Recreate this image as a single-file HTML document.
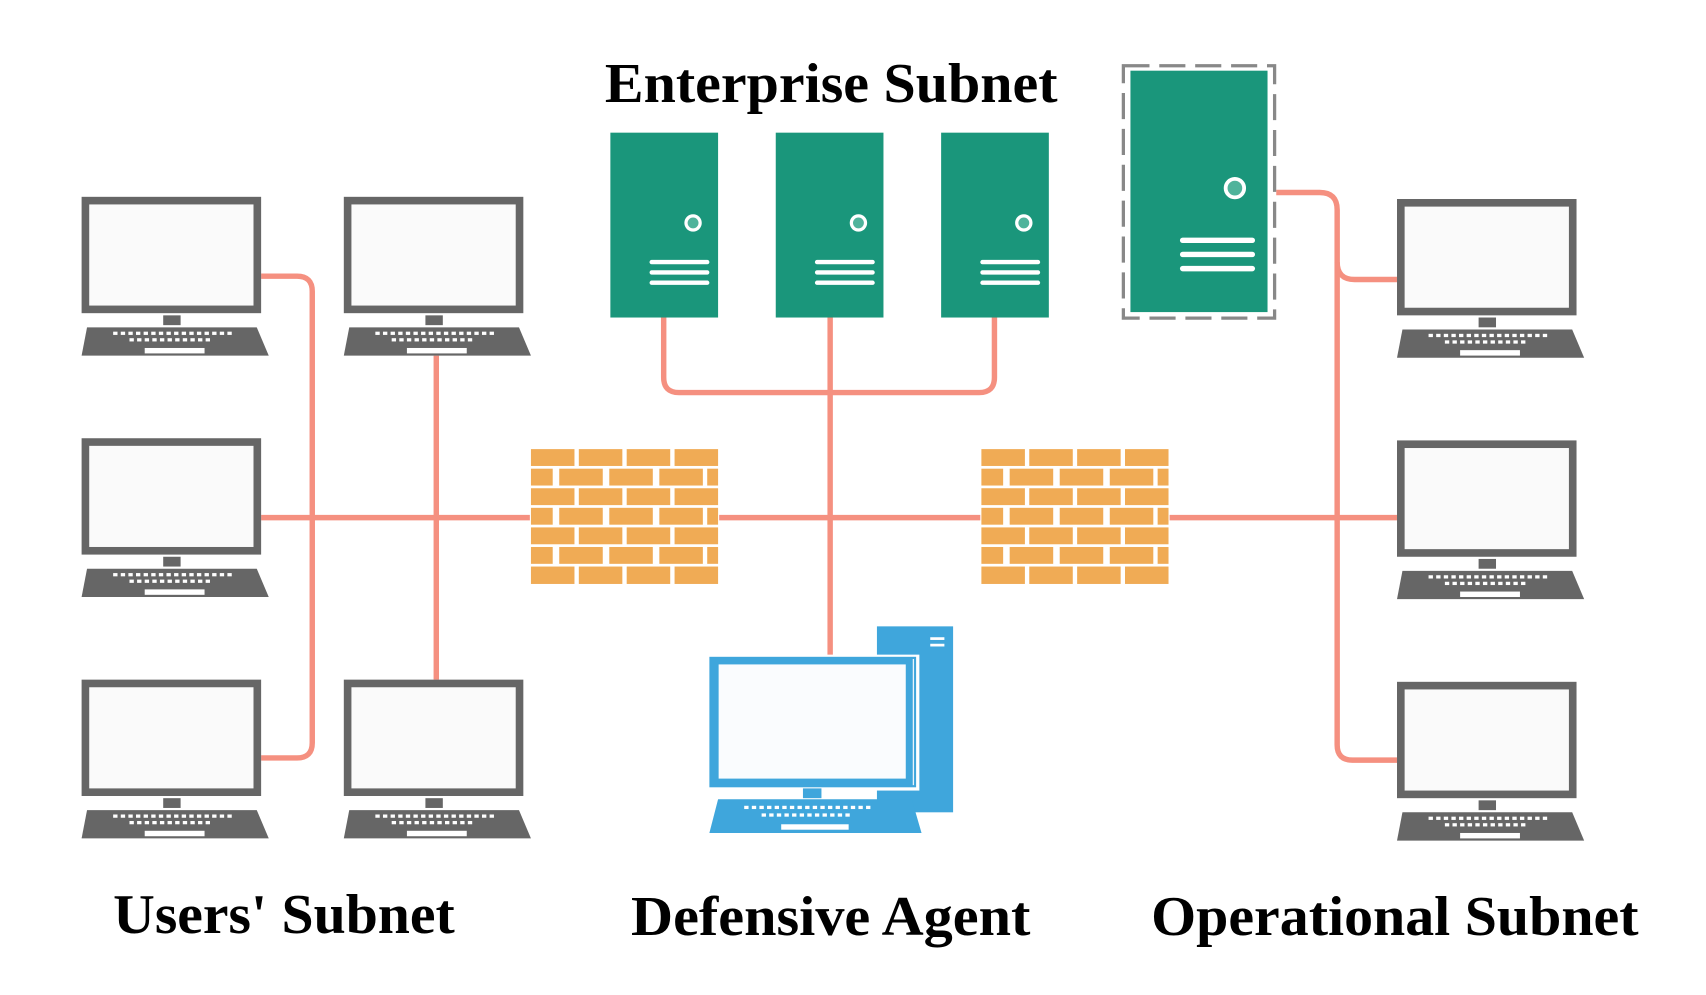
<!DOCTYPE html>
<html><head><meta charset="utf-8"><style>
html,body{margin:0;padding:0;background:#fff;}
svg{display:block;}
text{font-family:"Liberation Serif",serif;font-weight:bold;fill:#000;}
</style></head><body>
<svg width="1706" height="995" viewBox="0 0 1568 915" preserveAspectRatio="none" xmlns="http://www.w3.org/2000/svg">
<defs>
<g id="lap">
 <rect x="3.5" y="3.5" width="158" height="100" fill="#fafafa" stroke="#666" stroke-width="7"/>
 <rect x="75" y="109" width="16" height="9" fill="#666"/>
 <polygon points="5,120 161,120 172,146 0,146" fill="#666"/>
 <g fill="#fff">
  <rect x="29" y="124" width="4" height="3"/><rect x="36" y="124" width="4" height="3"/><rect x="43" y="124" width="4" height="3"/><rect x="50" y="124" width="4" height="3"/><rect x="57" y="124" width="4" height="3"/><rect x="64" y="124" width="4" height="3"/><rect x="71" y="124" width="4" height="3"/><rect x="78" y="124" width="4" height="3"/><rect x="85" y="124" width="4" height="3"/><rect x="92" y="124" width="4" height="3"/><rect x="99" y="124" width="4" height="3"/><rect x="106" y="124" width="4" height="3"/><rect x="113" y="124" width="4" height="3"/><rect x="120" y="124" width="4" height="3"/><rect x="127" y="124" width="4" height="3"/><rect x="134" y="124" width="4" height="3"/>
  <rect x="44" y="130" width="4" height="3"/><rect x="51" y="130" width="4" height="3"/><rect x="58" y="130" width="4" height="3"/><rect x="65" y="130" width="4" height="3"/><rect x="72" y="130" width="4" height="3"/><rect x="79" y="130" width="4" height="3"/><rect x="86" y="130" width="4" height="3"/><rect x="93" y="130" width="4" height="3"/><rect x="100" y="130" width="4" height="3"/><rect x="107" y="130" width="4" height="3"/><rect x="114" y="130" width="4" height="3"/>
  <rect x="58" y="139" width="55" height="5"/>
 </g>
</g>
<g id="fw">
 <rect x="-1" y="-1" width="174" height="126" fill="#fff"/>
 <g fill="#f0ab55">
 <rect x="0" y="0" width="40" height="15.5"/><rect x="44" y="0" width="40" height="15.5"/><rect x="88" y="0" width="40" height="15.5"/><rect x="132" y="0" width="40" height="15.5"/>
 <rect x="0" y="18" width="20" height="15.5"/><rect x="26" y="18" width="40" height="15.5"/><rect x="72" y="18" width="40" height="15.5"/><rect x="118" y="18" width="40" height="15.5"/><rect x="162" y="18" width="10" height="15.5"/>
 <rect x="0" y="36" width="40" height="15.5"/><rect x="44" y="36" width="40" height="15.5"/><rect x="88" y="36" width="40" height="15.5"/><rect x="132" y="36" width="40" height="15.5"/>
 <rect x="0" y="54" width="20" height="15.5"/><rect x="26" y="54" width="40" height="15.5"/><rect x="72" y="54" width="40" height="15.5"/><rect x="118" y="54" width="40" height="15.5"/><rect x="162" y="54" width="10" height="15.5"/>
 <rect x="0" y="72" width="40" height="15.5"/><rect x="44" y="72" width="40" height="15.5"/><rect x="88" y="72" width="40" height="15.5"/><rect x="132" y="72" width="40" height="15.5"/>
 <rect x="0" y="90" width="20" height="15.5"/><rect x="26" y="90" width="40" height="15.5"/><rect x="72" y="90" width="40" height="15.5"/><rect x="118" y="90" width="40" height="15.5"/><rect x="162" y="90" width="10" height="15.5"/>
 <rect x="0" y="108" width="40" height="16"/><rect x="44" y="108" width="40" height="16"/><rect x="88" y="108" width="40" height="16"/><rect x="132" y="108" width="40" height="16"/>
 </g>
</g>
<g id="srv">
 <rect x="0" y="0" width="99" height="170" fill="#1a967b"/>
 <circle cx="76" cy="83" r="6.5" fill="#4fb39b" stroke="#fff" stroke-width="3"/>
 <g stroke="#fff" stroke-width="4" stroke-linecap="round">
  <line x1="38" y1="119" x2="89" y2="119"/><line x1="38" y1="128.5" x2="89" y2="128.5"/><line x1="38" y1="138" x2="89" y2="138"/>
 </g>
</g>
</defs>

<g fill="none" stroke="#f59080" stroke-width="5">
 <path d="M240 254 H273 Q287 254 287 268 V683 Q287 697 273 697 H240"/>
 <path d="M401 327 V625"/>
 <path d="M240 476 H1284"/>
 <path d="M610 292 V347 Q610 361 624 361 H900 Q914 361 914 347 V292"/>
 <path d="M763 292 V604"/>
 <path d="M1173 177 H1213 Q1229 177 1229 193 V685 Q1229 699 1243 699 H1284"/>
 <path d="M1229 241 Q1229 257 1245 257 H1284"/>
</g>

<use href="#lap" x="75" y="181"/>
<use href="#lap" x="75" y="403"/>
<use href="#lap" x="75" y="625"/>
<use href="#lap" x="316" y="181"/>
<use href="#lap" x="316" y="625"/>
<use href="#lap" x="1284" y="183"/>
<use href="#lap" x="1284" y="405"/>
<use href="#lap" x="1284" y="627"/>

<use href="#fw" x="488" y="413"/>
<use href="#fw" x="902" y="413"/>

<use href="#srv" x="561" y="122"/>
<use href="#srv" x="713" y="122"/>
<use href="#srv" x="865" y="122"/>

<rect x="1032.5" y="60.5" width="139" height="232" fill="none" stroke="#888" stroke-width="3" stroke-dasharray="24,9"/>
<rect x="1039" y="65" width="126" height="222" fill="#1a967b"/>
<circle cx="1135" cy="173" r="8.5" fill="#4fb39b" stroke="#fff" stroke-width="3.5"/>
<g stroke="#fff" stroke-width="5" stroke-linecap="round">
 <line x1="1087" y1="221" x2="1151" y2="221"/><line x1="1087" y1="234" x2="1151" y2="234"/><line x1="1087" y1="247" x2="1151" y2="247"/>
</g>

<rect x="806" y="576" width="70" height="171" fill="#3fa6dc"/>
<rect x="855" y="586" width="13" height="2.5" fill="#fff"/>
<rect x="855" y="592" width="13" height="2.5" fill="#fff"/>
<rect x="650" y="602" width="195" height="125" fill="#fff"/>
<rect x="652" y="604" width="190" height="120" fill="#3fa6dc"/>
<rect x="660.5" y="611" width="172" height="105" fill="#fafcfe"/>
<line x1="839.5" y1="606" x2="839.5" y2="722" stroke="#e8f4fb" stroke-width="1.2"/>
<rect x="738" y="725" width="17" height="9" fill="#3fa6dc"/>
<polygon points="660,735 838,735 847,766 652,766" fill="#3fa6dc"/>
<g fill="#fff">
 <rect x="684" y="741" width="4" height="3"/><rect x="691" y="741" width="4" height="3"/><rect x="698" y="741" width="4" height="3"/><rect x="705" y="741" width="4" height="3"/><rect x="712" y="741" width="4" height="3"/><rect x="719" y="741" width="4" height="3"/><rect x="726" y="741" width="4" height="3"/><rect x="733" y="741" width="4" height="3"/><rect x="740" y="741" width="4" height="3"/><rect x="747" y="741" width="4" height="3"/><rect x="754" y="741" width="4" height="3"/><rect x="761" y="741" width="4" height="3"/><rect x="768" y="741" width="4" height="3"/><rect x="775" y="741" width="4" height="3"/><rect x="782" y="741" width="4" height="3"/><rect x="789" y="741" width="4" height="3"/><rect x="796" y="741" width="4" height="3"/>
 <rect x="700" y="748" width="4" height="3"/><rect x="707" y="748" width="4" height="3"/><rect x="714" y="748" width="4" height="3"/><rect x="721" y="748" width="4" height="3"/><rect x="728" y="748" width="4" height="3"/><rect x="735" y="748" width="4" height="3"/><rect x="742" y="748" width="4" height="3"/><rect x="749" y="748" width="4" height="3"/><rect x="756" y="748" width="4" height="3"/><rect x="763" y="748" width="4" height="3"/><rect x="770" y="748" width="4" height="3"/><rect x="777" y="748" width="4" height="3"/>
 <rect x="718" y="758" width="62" height="5"/>
</g>

<text x="556" y="94" font-size="52" textLength="416" lengthAdjust="spacingAndGlyphs">Enterprise Subnet</text>
<text x="104" y="858" font-size="52" textLength="314" lengthAdjust="spacingAndGlyphs">Users' Subnet</text>
<text x="580" y="860" font-size="52" textLength="367" lengthAdjust="spacingAndGlyphs">Defensive Agent</text>
<text x="1058" y="860" font-size="52" textLength="448" lengthAdjust="spacingAndGlyphs">Operational Subnet</text>
</svg>
</body></html>
